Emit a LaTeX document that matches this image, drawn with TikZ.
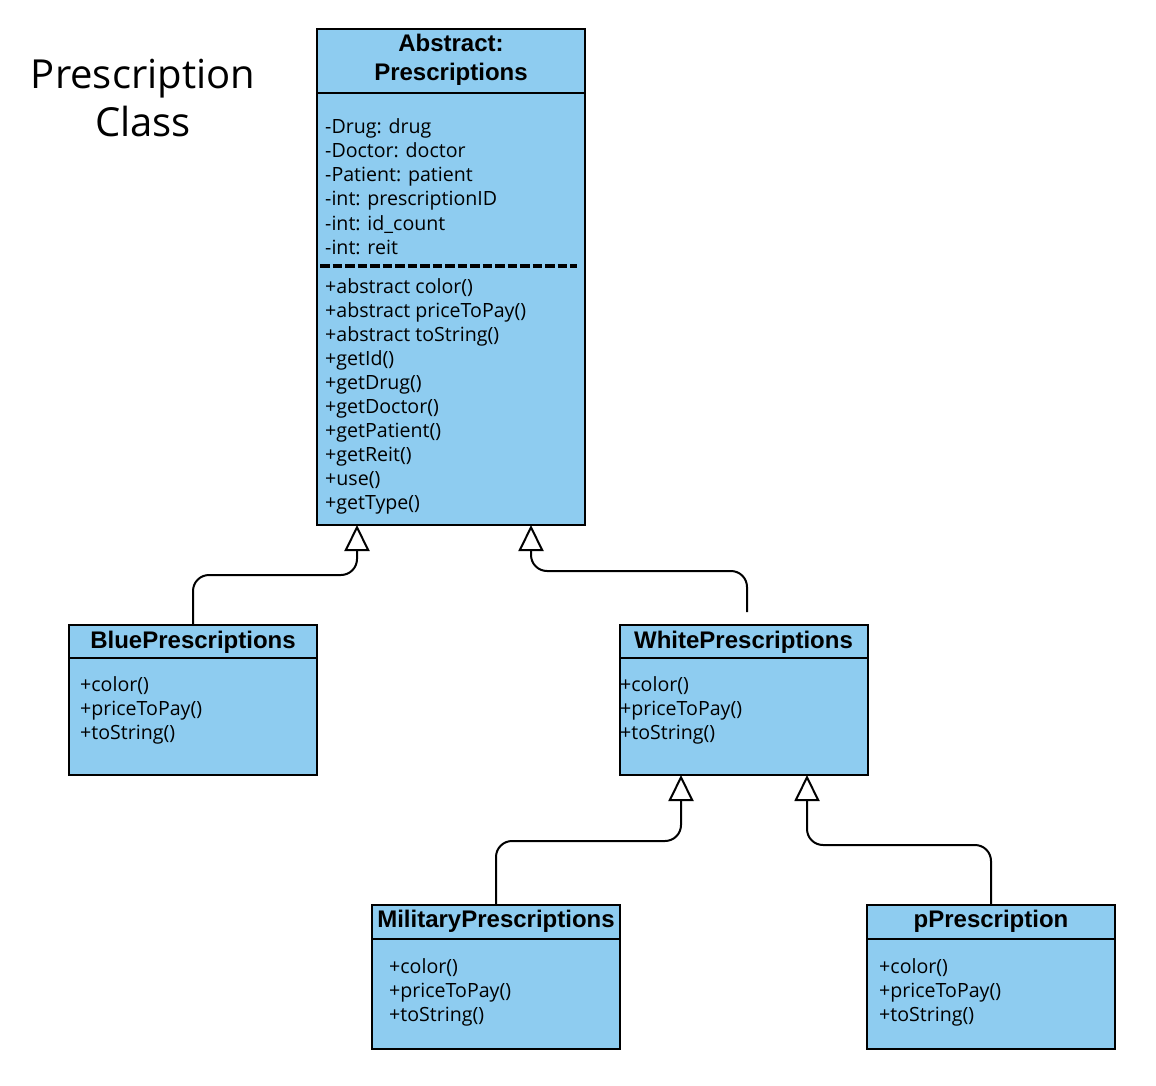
\documentclass[tikz,border=0pt]{standalone}
\usepackage{fontspec}
\setmainfont{Open Sans}
\newfontfamily\hdfont{Liberation Sans}
\usetikzlibrary{arrows.meta}
\definecolor{clsblue}{RGB}{142,204,240}
\tikzset{
  cls/.style={draw=black, line width=2pt, fill=clsblue, anchor=north west, inner sep=0pt, outer sep=0pt},
  hdr/.style={font=\hdfont\bfseries\fontsize{24}{29}\selectfont, anchor=base, inner sep=0pt},
  mem/.style={font=\fontsize{19.6}{24}\selectfont, anchor=base west, inner sep=0pt},
  ttl/.style={font=\fontsize{40}{46}\selectfont, anchor=base, inner sep=0pt},
  divider/.style={line width=2pt},
  sep/.style={line width=3.5pt, dash pattern=on 9.5pt off 3pt},
  inh/.style={line width=2pt, rounded corners=16pt, -{Triangle[open, length=26pt, width=25pt]}},
}
\begin{document}
\begin{tikzpicture}[x=1pt,y=-1pt]
\useasboundingbox (0,0) rectangle (1156,1086);

% title
\node[ttl] (ttl1) at (143,89) {Prescription};
\node[ttl] (ttl2) at (143,137) {Class};

% boxes
\node[cls, minimum width=268pt, minimum height=496pt] (abs) at (317,29) {};
\node[cls, minimum width=248pt, minimum height=150pt] (blue) at (69,625) {};
\node[cls, minimum width=248pt, minimum height=150pt] (white) at (619.5,625) {};
\node[cls, minimum width=248pt, minimum height=144pt] (mil) at (372,905) {};
\node[cls, minimum width=248pt, minimum height=144pt] (pp) at (867,905) {};

% dividers
\draw[divider] (317,93) -- (585,93);
\draw[divider] (69,658) -- (317,658);
\draw[divider] (619.5,658) -- (867.5,658);
\draw[divider] (372,939) -- (620,939);
\draw[divider] (867,939) -- (1115,939);
\draw[sep] (320,266) -- (577,266);

% headers
\node[hdr] (h1) at (451,52) {Abstract:};
\node[hdr] (h2) at (451,81) {Prescriptions};
\node[hdr] (h3) at (193,648) {BluePrescriptions};
\node[hdr] (h4) at (743.5,648) {WhitePrescriptions};
\node[hdr] (h5) at (496,927) {MilitaryPrescriptions};
\node[hdr] (h6) at (991,927) {pPrescription};

% abstract members
\foreach \t [count=\i from 0] in {-Drug: drug, -Doctor: doctor, -Patient: patient, -int: prescriptionID, -int: id\_count, -int: reit}
  \node[mem] (af\i) at (325,134+24*\i) {\t};
\foreach \t [count=\i from 0] in {+abstract color(), +abstract priceToPay(), +abstract toString(), +getId(), +getDrug(), +getDoctor(), +getPatient(), +getReit(), +use(), +getType()}
  \node[mem] (am\i) at (325,293+24*\i) {\t};

% subclass members
\foreach \t [count=\i from 0] in {+color(), +priceToPay(), +toString()} {
  \node[mem] (bm\i) at (80,691+24*\i) {\t};
  \node[mem] (wm\i) at (620,691+24*\i) {\t};
  \node[mem] (mm\i) at (389,973+24*\i) {\t};
  \node[mem] (pm\i) at (879,973+24*\i) {\t};
}

% inheritance connectors
\coordinate (wtop) at (747,612);
\draw[inh] (blue.north) -- ++(0,-50) -| ([xshift=40pt]abs.south west);
\draw[inh] (wtop) -- ++(0,-41) -| ([xshift=214pt]abs.south west);
\draw[inh] (mil.north) -- ++(0,-64) -| ([xshift=61.5pt]white.south west);
\draw[inh] (pp.north) -- ++(0,-60) -| ([xshift=187.5pt]white.south west);
\end{tikzpicture}
\end{document}
